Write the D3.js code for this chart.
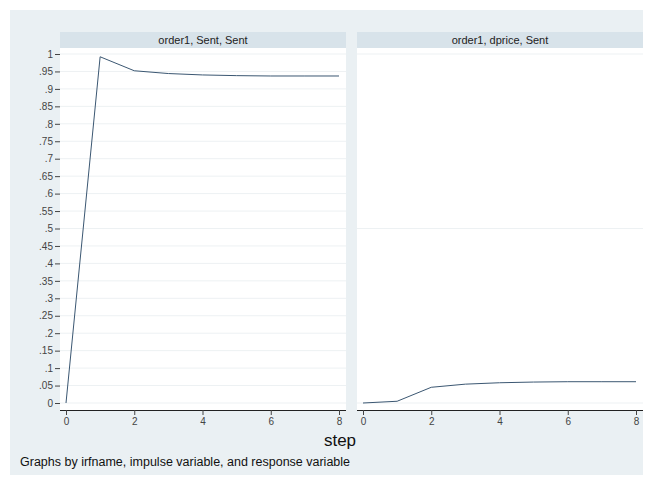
<!DOCTYPE html>
<html>
<head>
<meta charset="utf-8">
<script src="https://cdn.jsdelivr.net/npm/d3@7"></script>
<style>
  body { margin: 0; background: #fff; }
  text { font-family: "Liberation Sans", Arial, sans-serif; }
</style>
</head>
<body>
<div id="chart"></div>
<script>
const steps = [0, 1, 2, 3, 4, 5, 6, 7, 8]
const sentSent = [0, 0.992, 0.952, 0.944, 0.940, 0.938, 0.937, 0.937, 0.937]
const dpriceSent = [0, 0.005, 0.045, 0.054, 0.058, 0.060, 0.061, 0.061, 0.061]
const panelTitles = ['order1, Sent, Sent', 'order1, dprice, Sent']
const yTicks = d3.range(0, 1.0001, 0.05)
const xTicks = [0, 2, 4, 6, 8]

const width = 652, height = 479
const svg = d3.select('#chart').append('svg')
  .attr('width', width).attr('height', height)

// outer graph region
svg.append('rect')
  .attr('x', 10).attr('y', 10).attr('width', 633).attr('height', 465)
  .attr('fill', '#eaf0f3')

const panels = [
  { x0: 60, x1: 346, data: sentSent, title: panelTitles[0], yAxis: true },
  { x0: 357, x1: 643, data: dpriceSent, title: panelTitles[1], yAxis: false }
]

const y = d3.scaleLinear().domain([0, 1]).range([403, 54])
const fmt = d => d === 0 ? '0' : d3.format('.2~f')(d).replace(/^0/, '')

panels.forEach(p => {
  const x = d3.scaleLinear().domain([0, 8]).range([p.x0 + 6, p.x1 - 7])
  const g = svg.append('g')

  // header strip
  g.append('rect')
    .attr('x', p.x0).attr('y', 32).attr('width', p.x1 - p.x0).attr('height', 16)
    .attr('fill', '#d8e3ea')
  g.append('text')
    .attr('x', (p.x0 + p.x1) / 2).attr('y', 44)
    .attr('text-anchor', 'middle').attr('font-size', 11).attr('fill', '#222')
    .text(p.title)

  // plot region
  g.append('rect')
    .attr('x', p.x0).attr('y', 48).attr('width', p.x1 - p.x0).attr('height', 362)
    .attr('fill', '#fff')

  // grid
  const gridVals = p.yAxis ? yTicks : [0, 0.5, 1]
  g.selectAll('.grid').data(gridVals).enter().append('line')
    .attr('x1', p.x0).attr('x2', p.x1)
    .attr('y1', d => y(d)).attr('y2', d => y(d))
    .attr('stroke', '#edf1f3').attr('stroke-width', 1)

  // line
  g.append('path')
    .datum(steps.map((s, i) => [s, p.data[i]]))
    .attr('fill', 'none').attr('stroke', '#3b5772').attr('stroke-width', 1)
    .attr('d', d3.line().x(d => x(d[0])).y(d => y(d[1])))

  // x axis
  const xa = g.append('g').attr('transform', 'translate(0,410)')
    .call(d3.axisBottom(x).tickValues(xTicks).tickSize(5).tickPadding(3).tickFormat(d3.format('d')))
  xa.select('.domain').attr('d', `M${p.x0},0.5H${p.x1}`).attr('stroke', '#222')
  xa.selectAll('.tick line').attr('stroke', '#444')
  xa.selectAll('text').attr('font-size', 10).attr('fill', '#444')
    .style('font-family', '"Liberation Sans", Arial, sans-serif')

  if (p.yAxis) {
    const ya = g.append('g').attr('transform', `translate(${p.x0},0)`)
      .call(d3.axisLeft(y).tickValues(yTicks).tickSize(5).tickPadding(2).tickFormat(fmt))
    ya.select('.domain').remove()
    ya.selectAll('.tick line').attr('stroke', '#444')
    ya.selectAll('text').attr('font-size', 10).attr('fill', '#444')
      .style('font-family', '"Liberation Sans", Arial, sans-serif')
  }
})

svg.append('text')
  .attr('x', 340).attr('y', 446)
  .attr('text-anchor', 'middle').attr('font-size', 17).attr('fill', '#111')
  .text('step')

svg.append('text')
  .attr('x', 20).attr('y', 466)
  .attr('font-size', 12.5).attr('fill', '#111')
  .text('Graphs by irfname, impulse variable, and response variable')
</script>
</body>
</html>
